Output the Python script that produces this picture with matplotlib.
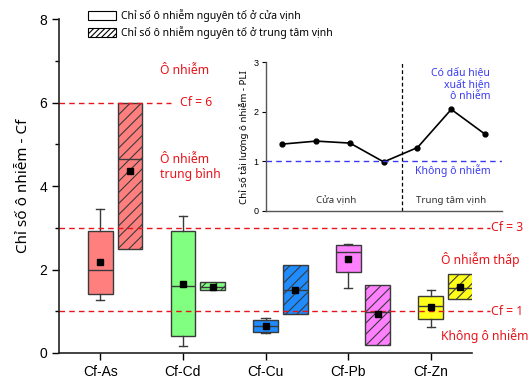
import matplotlib
matplotlib.use("Agg")
import matplotlib.pyplot as plt
from matplotlib.patches import Patch

# main chart: box statistics
elements = ["Cf-As", "Cf-Cd", "Cf-Cu", "Cf-Pb", "Cf-Zn"]
colors = ["#FF7F7F", "#80FF80", "#1E8CFF", "#FF80FF", "#FFFF1A"]

# cửa vịnh (open boxes)
mouth_q1 = [1.42, 0.41, 0.51, 1.93, 0.81]
mouth_med = [1.99, 1.61, 0.65, 2.43, 1.13]
mouth_q3 = [2.92, 2.92, 0.79, 2.59, 1.37]
mouth_lo = [1.26, 0.17, 0.48, 1.56, 0.62]
mouth_hi = [3.45, 3.27, 0.85, 2.60, 1.52]
mouth_mean = [2.18, 1.66, 0.64, 2.25, 1.09]

# trung tâm vịnh (hatched boxes)
center_q1 = [2.48, 1.50, 0.93, 0.19, 1.29]
center_med = [4.64, 1.58, 1.51, 0.98, 1.56]
center_q3 = [6.00, 1.71, 2.10, 1.62, 1.89]
center_mean = [4.37, 1.57, 1.51, 0.93, 1.57]

# inset: PLI per station
pli_x = [1, 2, 3, 4, 5, 6, 7]
pli = [1.35, 1.41, 1.37, 0.99, 1.28, 2.05, 1.55]

txt_font = ["Noto Sans", "DejaVu Sans"]
num_font = ["Liberation Sans", "DejaVu Sans"]
red = "#E8141B"
blue = "#3A3AF0"

plt.rcParams["hatch.linewidth"] = 0.8

fig = plt.figure(figsize=(5.3, 3.81), dpi=100)
ax = fig.add_axes([0.1113, 0.0735, 0.7793, 0.8766])

pos = list(range(1, len(elements) + 1))
stats_a = []
stats_b = []
for i in range(len(elements)):
    stats_a.append(dict(q1=mouth_q1[i], med=mouth_med[i], q3=mouth_q3[i],
                        whislo=mouth_lo[i], whishi=mouth_hi[i], mean=mouth_mean[i], fliers=[]))
    stats_b.append(dict(q1=center_q1[i], med=center_med[i], q3=center_q3[i],
                        whislo=center_q1[i], whishi=center_q3[i], mean=center_mean[i], fliers=[]))

edge = "#3a3a3a"
common = dict(widths=0.3, patch_artist=True, showmeans=True,
              medianprops=dict(color=edge, lw=1),
              whiskerprops=dict(color=edge, lw=1),
              capprops=dict(color=edge, lw=1),
              boxprops=dict(edgecolor=edge, lw=1),
              meanprops=dict(marker="s", markerfacecolor="black",
                             markeredgecolor="black", markersize=5))
ba = ax.bxp(stats_a, positions=pos, capwidths=0.1, **common)
bb = ax.bxp(stats_b, positions=[p + 0.36 for p in pos], showcaps=False, **common)
for i, c in enumerate(colors):
    ba["boxes"][i].set_facecolor(c)
    bb["boxes"][i].set_facecolor(c)
    bb["boxes"][i].set_hatch("///")

ax.set_xlim(0.5, 5.5)
ax.set_ylim(0, 8)
ax.set_xticks(pos)
ax.set_xticklabels(elements, fontsize=10, family=num_font)
ax.set_yticks([0, 2, 4, 6, 8])
ax.set_yticks([1, 3, 5, 7], minor=True)
ax.tick_params(axis="y", labelsize=10, direction="out", length=5, width=1)
ax.tick_params(axis="y", which="minor", direction="out", length=3, width=1)
ax.tick_params(axis="x", direction="out", length=5, width=1)
for lab in ax.get_yticklabels():
    lab.set_family(num_font)
for s in ["top", "right"]:
    ax.spines[s].set_visible(False)
for s in ["left", "bottom"]:
    ax.spines[s].set_linewidth(1.2)
    ax.spines[s].set_color("#222222")
ax.set_ylabel("Chỉ số ô nhiễm - Cf", fontsize=11, family=txt_font, labelpad=6)

# threshold lines
ax.axhline(6, xmin=0, xmax=0.27, color=red, ls=(0, (4, 3)), lw=1)
ax.axhline(3, xmin=0, xmax=1.044, color=red, ls=(0, (4, 3)), lw=1, clip_on=False)
ax.axhline(1, xmin=0, xmax=1.044, color=red, ls=(0, (4, 3)), lw=1, clip_on=False)

tk = dict(color=red, fontsize=8.8, family=txt_font, va="center", ha="left")
ax.text(1.72, 6.77, "Ô nhiễm", **tk)
ax.text(1.96, 6.0, "Cf = 6", **tk)
ax.text(1.72, 4.46, "Ô nhiễm\ntrung bình", linespacing=1.15, **tk)
ax.text(5.73, 3.0, "Cf = 3", clip_on=False, **tk)
ax.text(5.13, 2.25, "Ô nhiễm thấp", clip_on=False, **tk)
ax.text(5.73, 1.0, "Cf = 1", clip_on=False, **tk)
ax.text(5.13, 0.41, "Không ô nhiễm", clip_on=False, **tk)

handles = [Patch(facecolor="white", edgecolor="black", lw=0.8),
           Patch(facecolor="white", edgecolor="black", lw=0.8, hatch="//////")]
fig.legend(handles, ["Chỉ số ô nhiễm nguyên tố ở cửa vịnh",
                     "Chỉ số ô nhiễm nguyên tố ở trung tâm vịnh"],
           loc="upper left", bbox_to_anchor=(0.148, 1.0), frameon=False,
           prop=dict(family=txt_font, size=7.5), handlelength=2.7, handleheight=0.9,
           handletextpad=0.45, labelspacing=0.35)

# inset PLI
ins = fig.add_axes([0.501, 0.4462, 0.446, 0.3903])
ins.patch.set_alpha(0)
ins.plot(pli_x, pli, color="black", lw=1.2, marker="o", markersize=3.5)
ins.axhline(1, color=blue, ls=(0, (4, 3)), lw=1)
ins.axvline(4.55, color="black", ls=(0, (3, 2)), lw=0.9)
ins.set_xlim(0.5, 7.5)
ins.set_ylim(0, 3)
ins.set_xticks([])
ins.set_yticks([0, 1, 2, 3])
ins.tick_params(axis="y", labelsize=6.5, direction="out", length=3, width=0.8, pad=2)
for lab in ins.get_yticklabels():
    lab.set_family(num_font)
for s in ["top", "right"]:
    ins.spines[s].set_visible(False)
for s in ["left", "bottom"]:
    ins.spines[s].set_linewidth(1)
    ins.spines[s].set_color("#555555")
ins.set_ylabel("Chỉ số tải lượng ô nhiễm - PLI", fontsize=7, family=txt_font, labelpad=3)
ins.text(2.6, 0.22, "Cửa vịnh", fontsize=7, family=txt_font, color="#333333",
         ha="center", va="center")
ins.text(6.0, 0.22, "Trung tâm vịnh", fontsize=7, family=txt_font, color="#333333",
         ha="center", va="center")
ins.text(7.15, 2.55, "Có dấu hiệu\nxuất hiện\nô nhiễm", fontsize=7.5, family=txt_font,
         color=blue, ha="right", va="center", multialignment="right", linespacing=1.1)
ins.text(7.18, 0.81, "Không ô nhiễm", fontsize=7.5, family=txt_font, color=blue,
         ha="right", va="center")

fig.savefig("out.png", dpi=100)
